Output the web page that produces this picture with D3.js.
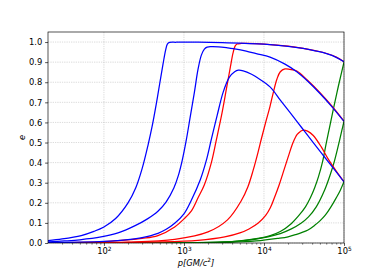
<!DOCTYPE html>
<html><head><meta charset="utf-8">
<script src="https://cdn.jsdelivr.net/npm/d3@7"></script>
<style>body{margin:0;background:#fff}svg{display:block}</style>
</head><body>
<svg id="c" width="382" height="273"></svg>
<script>
// ---- data: [p, e] pairs ----
const blue1 = [[20,0.012],[30,0.02],[52,0.037],[75,0.058],[100,0.08],[140,0.122],[200,0.2],[250,0.275],[300,0.37],[357,0.49],[400,0.58],[450,0.69],[501,0.80],[550,0.895],[590,0.96],[620,0.99],[660,0.998],[800,0.999],[1500,0.999],[3000,0.997],[10000,0.99],[20000,0.979],[30900,0.968],[45000,0.955],[60600,0.942],[80000,0.924],[100000,0.902]];
const blue2 = [[20,0.005],[32,0.01],[50,0.016],[92,0.03],[150,0.05],[242,0.085],[350,0.12],[473,0.158],[600,0.205],[750,0.275],[850,0.335],[950,0.41],[1070,0.513],[1189,0.62],[1350,0.75],[1500,0.865],[1650,0.935],[1800,0.965],[1950,0.975],[2200,0.977],[2700,0.976],[3500,0.971],[4130,0.967],[6000,0.955],[8000,0.942],[11900,0.925],[18300,0.89],[25700,0.852],[35000,0.806],[50100,0.744],[70000,0.68],[100000,0.605]];
const blue3 = [[20,0.002],[50,0.004],[100,0.008],[200,0.017],[300,0.027],[473,0.048],[600,0.068],[766,0.098],[1000,0.145],[1240,0.214],[1600,0.315],[1900,0.41],[2190,0.513],[2600,0.635],[3100,0.752],[3700,0.825],[4300,0.852],[4780,0.86],[5500,0.857],[7000,0.84],[8000,0.826],[11900,0.777],[16000,0.711],[21100,0.65],[30000,0.571],[41300,0.50],[52000,0.449],[63000,0.406],[80000,0.354],[100000,0.304]];
const red1 = [[20,0.0015],[100,0.007],[300,0.023],[473,0.037],[766,0.08],[1000,0.12],[1240,0.16],[1500,0.225],[1800,0.29],[2200,0.40],[2540,0.513],[3000,0.65],[3400,0.769],[3800,0.875],[4100,0.945],[4350,0.98],[4600,0.99],[5200,0.993],[6000,0.993],[10000,0.99],[20000,0.98],[30900,0.969],[45000,0.956],[60600,0.943],[80000,0.925],[100000,0.902]];
const red2 = [[20,0.0008],[200,0.004],[766,0.018],[2000,0.055],[3500,0.115],[5200,0.21],[6300,0.28],[7300,0.36],[8410,0.45],[9300,0.52],[10500,0.6],[11900,0.68],[13000,0.745],[14500,0.815],[16000,0.852],[18300,0.866],[21000,0.864],[25700,0.856],[35000,0.81],[50100,0.748],[70000,0.683],[100000,0.606]];
const red3 = [[20,0.0003],[500,0.005],[1500,0.013],[3230,0.03],[5000,0.05],[6500,0.07],[8410,0.098],[10500,0.137],[12000,0.175],[13500,0.225],[15500,0.29],[18000,0.37],[20500,0.44],[23100,0.5],[26000,0.54],[28500,0.555],[30900,0.562],[35000,0.557],[41300,0.535],[52000,0.478],[63000,0.42],[80000,0.358],[100000,0.305]];
const green1 = [[20,0.0003],[1000,0.001],[3000,0.005],[5000,0.011],[8400,0.023],[12000,0.037],[16000,0.057],[21700,0.095],[27000,0.135],[33000,0.18],[38000,0.225],[43000,0.275],[48000,0.33],[54000,0.405],[60200,0.5],[66000,0.575],[73500,0.665],[85000,0.78],[100000,0.9]];
const green2 = [[20,0.0002],[1000,0.001],[3000,0.004],[6000,0.013],[11200,0.031],[16000,0.047],[22000,0.07],[29000,0.098],[36000,0.13],[45000,0.18],[57300,0.264],[66000,0.33],[75000,0.4],[82000,0.46],[88300,0.513],[94000,0.56],[100000,0.605]];
const green3 = [[20,0.0001],[3000,0.002],[8000,0.01],[15000,0.023],[20000,0.031],[25000,0.042],[30000,0.053],[35500,0.065],[43000,0.088],[50000,0.11],[58000,0.137],[69000,0.181],[80000,0.225],[90000,0.263],[100000,0.305]];

const xTicks = [100, 1000, 10000, 100000];
const xTickExp = ["2", "3", "4", "5"];
const xMinor = [30,40,50,60,70,80,90,200,300,400,500,600,700,800,900,2000,3000,4000,5000,6000,7000,8000,9000,20000,30000,40000,50000,60000,70000,80000,90000];
const yTicks = [0, 0.1, 0.2, 0.3, 0.4, 0.5, 0.6, 0.7, 0.8, 0.9, 1.0];

// ---- layout ----
const L = 48, R = 344, T = 32, B = 243;
const FONT = "'DejaVu Sans', sans-serif";
const FS = 8.33;
const svg = d3.select("#c");
const x = d3.scaleLog().domain([20, 1e5]).range([L, R]);
const y = d3.scaleLinear().domain([0, 1.05]).range([B, T]);

svg.append("defs").append("clipPath").attr("id", "clip")
  .append("rect").attr("x", L).attr("y", T).attr("width", R - L).attr("height", B - T);

// grid
const grid = svg.append("g").attr("stroke", "#b0b0b0").attr("stroke-width", 0.67)
  .attr("stroke-dasharray", "0.67,1.1");
grid.selectAll("line.gy").data(yTicks).join("line").attr("class", "gy")
  .attr("x1", L).attr("x2", R).attr("y1", d => y(d)).attr("y2", d => y(d));
grid.selectAll("line.gx").data(xTicks).join("line").attr("class", "gx")
  .attr("y1", T).attr("y2", B).attr("x1", d => x(d)).attr("x2", d => x(d));

// curves
const line = d3.line().x(d => x(d[0])).y(d => y(d[1])).curve(d3.curveCatmullRom.alpha(0.5));
const series = [
  [green1, "#008000"], [green2, "#008000"], [green3, "#008000"],
  [red1, "#ff0000"], [red2, "#ff0000"], [red3, "#ff0000"],
  [blue1, "#0000ff"], [blue2, "#0000ff"], [blue3, "#0000ff"]
];
const cg = svg.append("g").attr("clip-path", "url(#clip)");
series.forEach(([data, col]) => {
  cg.append("path").attr("d", line(data)).attr("fill", "none")
    .attr("stroke", col).attr("stroke-width", 1.25).attr("stroke-linejoin", "round");
});

// axes
const xAxis = svg.append("g").attr("transform", `translate(0,${B})`)
  .call(d3.axisBottom(x).tickValues(xTicks).tickSize(2.9).tickPadding(2.9).tickFormat(() => ""));
xAxis.select(".domain").remove();
xAxis.selectAll("line").attr("stroke", "#000").attr("stroke-width", 0.67);
xAxis.selectAll(".tick text").each(function(d, i) {
  const t = d3.select(this);
  t.text(null).attr("font-family", FONT).attr("font-size", FS).attr("fill", "#000")
    .attr("dy", null).attr("y", 11);
  t.append("tspan").text("10");
  t.append("tspan").text(xTickExp[i]).attr("font-size", FS * 0.7).attr("dy", -3.4);
});
const xMin = svg.append("g").attr("transform", `translate(0,${B})`)
  .call(d3.axisBottom(x).tickValues(xMinor).tickSize(1.67).tickFormat(() => ""));
xMin.select(".domain").remove();
xMin.selectAll("line").attr("stroke", "#000").attr("stroke-width", 0.5);

const yAxis = svg.append("g").attr("transform", `translate(${L},0)`)
  .call(d3.axisLeft(y).tickValues(yTicks).tickSize(2.9).tickPadding(2.9).tickFormat(d3.format(".1f")));
yAxis.select(".domain").remove();
yAxis.selectAll("line").attr("stroke", "#000").attr("stroke-width", 0.67);
yAxis.selectAll("text").attr("font-family", FONT).attr("font-size", FS).attr("fill", "#000");

// spines
svg.append("rect").attr("x", L).attr("y", T).attr("width", R - L).attr("height", B - T)
  .attr("fill", "none").attr("stroke", "#000").attr("stroke-width", 0.67);

// labels
const xl = svg.append("text").attr("x", (L + R) / 2).attr("y", 265.5).attr("text-anchor", "middle")
  .attr("font-family", FONT).attr("font-size", FS).attr("font-style", "italic");
xl.append("tspan").text("p[GM/c");
xl.append("tspan").text("2").attr("font-size", FS * 0.7).attr("dy", -3.4).attr("font-style", "normal");
xl.append("tspan").text("]").attr("dy", 3.4);

svg.append("text").attr("transform", `translate(24.5,${(T + B) / 2}) rotate(-90)`)
  .attr("text-anchor", "middle").attr("font-family", FONT).attr("font-size", FS)
  .attr("font-style", "italic").text("e");
</script>
</body></html>
